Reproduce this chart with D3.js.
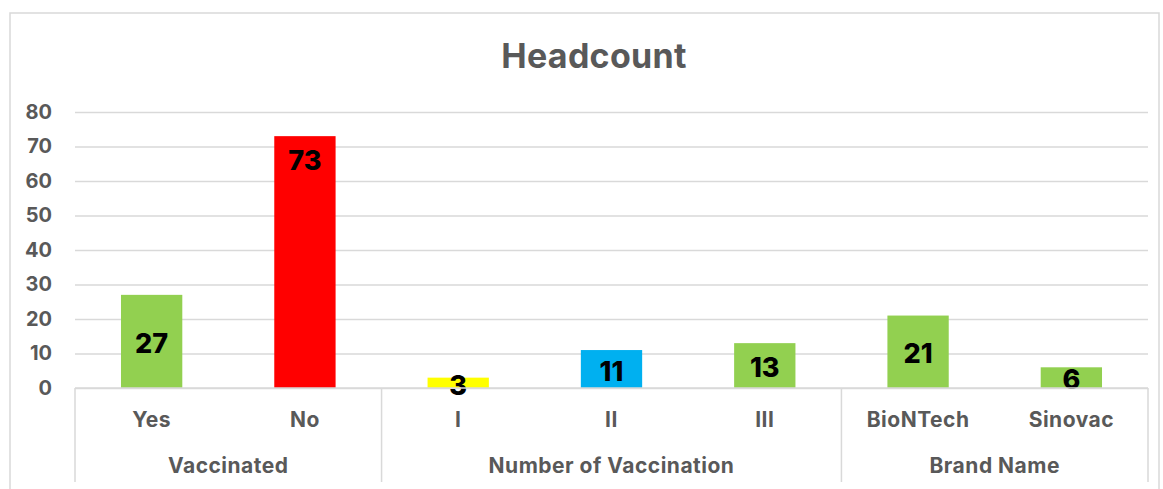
<!DOCTYPE html>
<html>
<head>
<meta charset="utf-8">
<script src="https://cdn.jsdelivr.net/npm/d3@7"></script>
<style>
  body { margin: 0; background: #fff; }
  text { font-family: Inter, "Liberation Sans", Arial, sans-serif; font-weight: 700; }
</style>
</head>
<body>
<svg id="chart"></svg>
<script>
const categories = ["Yes", "No", "I", "II", "III", "BioNTech", "Sinovac"];
const values = [27, 73, 3, 11, 13, 21, 6];
const groupNames = ["Vaccinated", "Number of Vaccination", "Brand Name"];
const groupSizes = [2, 3, 2];
const barColors = ["#92D050", "#FF0000", "#FFFF00", "#00B0F0", "#92D050", "#92D050", "#92D050"];
const yTicks = [0, 10, 20, 30, 40, 50, 60, 70, 80];
const labelAtTop = ["No"];

const W = 1163, H = 489;
const margin = {top: 112, right: 15, bottom: 101, left: 75};
const x0 = margin.left, x1 = W - margin.right;
const yBase = H - margin.bottom;
const grey = "#595959", lineGrey = "#D9D9D9";

const svg = d3.select("#chart").attr("width", W).attr("height", H);

// chart border
svg.append("rect")
    .attr("x", 10).attr("y", 13)
    .attr("width", 1149).attr("height", 500)
    .attr("fill", "none").attr("stroke", lineGrey).attr("stroke-width", 1.5);

svg.append("text")
    .attr("x", 594).attr("y", 68)
    .attr("text-anchor", "middle")
    .attr("fill", grey)
    .style("font-size", "34px")
    .style("letter-spacing", "0.3px")
    .text("Headcount");

const x = d3.scaleBand().domain(categories).range([x0, x1]).paddingInner(0.6).paddingOuter(0.3);
const y = d3.scaleLinear().domain([0, 80]).range([yBase, margin.top]);

// gridlines + y labels
const yAxis = d3.axisLeft(y).tickValues(yTicks).tickSize(-(x1 - x0)).tickPadding(23);
const yg = svg.append("g").attr("transform", `translate(${x0},0)`).call(yAxis);
yg.select(".domain").remove();
yg.selectAll(".tick line").attr("stroke", lineGrey).attr("stroke-width", 1.5);
yg.selectAll(".tick text").attr("fill", grey).style("font-size", "20px");

// bars
svg.append("g").selectAll("rect")
    .data(categories)
    .join("rect")
    .attr("x", d => x(d))
    .attr("width", x.bandwidth())
    .attr("y", (d, i) => y(values[i]))
    .attr("height", (d, i) => y(0) - y(values[i]))
    .attr("fill", (d, i) => barColors[i]);

// data labels
svg.append("g").selectAll("text")
    .data(categories)
    .join("text")
    .attr("x", d => x(d) + x.bandwidth() / 2)
    .attr("y", (d, i) => labelAtTop.includes(d) ? y(values[i]) + 24 : (y(values[i]) + y(0)) / 2 + 2)
    .attr("dy", "0.36em")
    .attr("text-anchor", "middle")
    .attr("fill", "#000")
    .style("font-size", "27px")
    .style("font-weight", 800)
    .text((d, i) => values[i]);

// category axis baseline
svg.append("line")
    .attr("x1", x0).attr("x2", x1).attr("y1", y(0)).attr("y2", y(0))
    .attr("stroke", lineGrey).attr("stroke-width", 1.5);

// category labels
svg.append("g").selectAll("text")
    .data(categories)
    .join("text")
    .attr("x", d => x(d) + x.bandwidth() / 2)
    .attr("y", yBase + 39)
    .attr("text-anchor", "middle")
    .attr("fill", grey)
    .style("font-size", "21px")
    .style("letter-spacing", "0.5px")
    .text(d => d);

// group separators and labels
let start = 0;
const bounds = [0];
groupSizes.forEach(n => { start += n; bounds.push(start); });
const step = x.step();
const edge = i => x0 + i * step;

svg.append("g").selectAll("line")
    .data(bounds)
    .join("line")
    .attr("x1", d => edge(d)).attr("x2", d => edge(d))
    .attr("y1", yBase).attr("y2", yBase + 94)
    .attr("stroke", lineGrey).attr("stroke-width", 1.5);

svg.append("g").selectAll("text")
    .data(groupNames)
    .join("text")
    .attr("x", (d, i) => (edge(bounds[i]) + edge(bounds[i + 1])) / 2)
    .attr("y", yBase + 85)
    .attr("text-anchor", "middle")
    .attr("fill", grey)
    .style("font-size", "21px")
    .style("letter-spacing", "0.5px")
    .text(d => d);
</script>
</body>
</html>
